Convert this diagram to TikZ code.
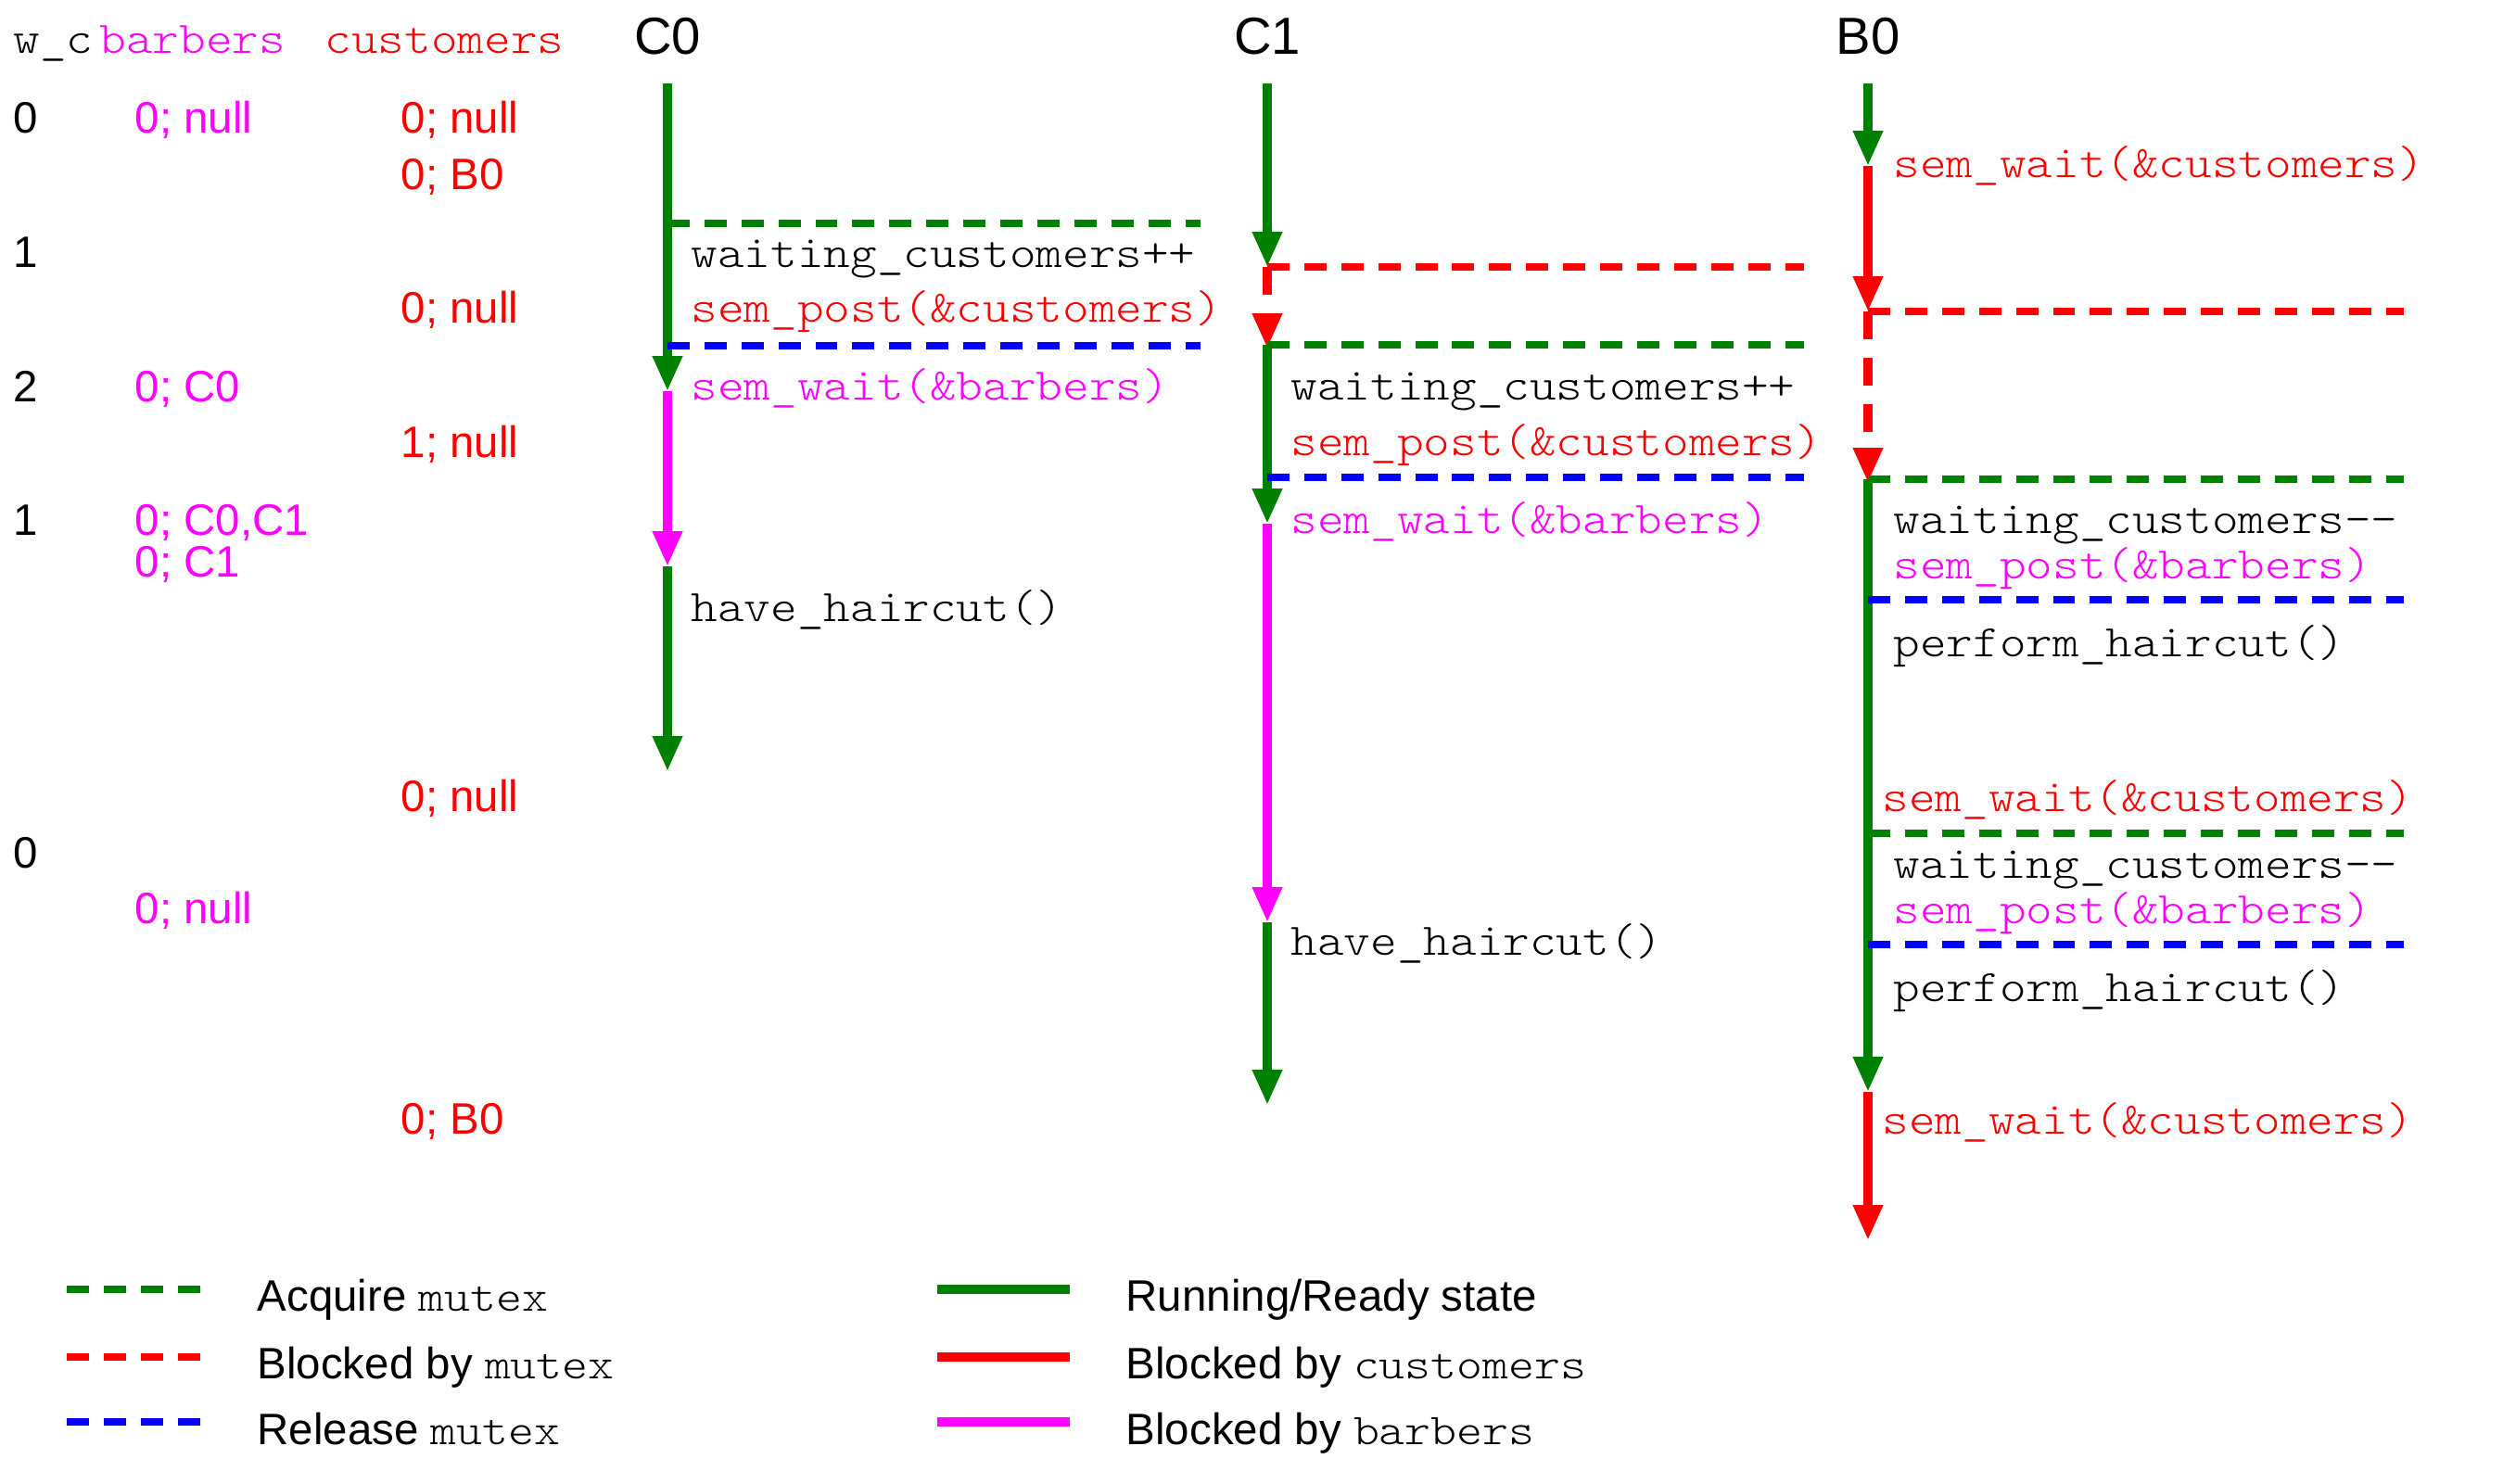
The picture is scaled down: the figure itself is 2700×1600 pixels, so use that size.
\documentclass[tikz,border=0pt]{standalone}
\usepackage{fontspec}
\setmainfont{Liberation Sans}
\setmonofont[FakeStretch=1.12]{lmmonolt10-regular.otf}
\usetikzlibrary{arrows.meta}
\definecolor{dgreen}{RGB}{0,128,0}
\definecolor{cred}{RGB}{255,0,0}
\definecolor{cblue}{RGB}{0,0,255}
\definecolor{cmag}{RGB}{255,0,255}
\begin{document}
\begin{tikzpicture}[x=0.2845pt,y=-0.2845pt,
  seg/.style={line width=2.6pt,-{Triangle[length=10.8pt,width=8.6pt]}},
  hdash/.style={line width=2.3pt,dash pattern=on 6.8pt off 4.55pt},
  vdash/.style={line width=2.6pt,dash pattern=on 8.5pt off 5.7pt,-{Triangle[length=10.8pt,width=8.6pt]}},
  legsolid/.style={line width=2.6pt},
  mono/.style={font=\fontsize{13.85}{16}\selectfont\ttfamily,anchor=base west,inner sep=0pt},
  sans/.style={font=\fontsize{13.5}{16}\selectfont,anchor=base west,inner sep=0pt},
  head/.style={font=\fontsize{16}{19}\selectfont,anchor=base,inner sep=0pt}]
\useasboundingbox (0,0) rectangle (2700,1600);

% ---------- table header ----------
\node[mono] (hwc) at (14,57) {w\_c};
\node[mono,text=cmag] (hbar) at (107,57) {barbers};
\node[mono,text=cred] (hcus) at (350,57) {customers};

% w_c column
\node[sans] (w1) at (14,143) {0};
\node[sans] (w2) at (14,288) {1};
\node[sans] (w3) at (14,433) {2};
\node[sans] (w4) at (14,577) {1};
\node[sans] (w5) at (14,936) {0};

% barbers column
\node[sans,text=cmag] (b1) at (145,143) {0; null};
\node[sans,text=cmag] (b2) at (145,433) {0; C0};
\node[sans,text=cmag] (b3) at (145,577) {0; C0,C1};
\node[sans,text=cmag] (b4) at (145,622) {0; C1};
\node[sans,text=cmag] (b5) at (145,996) {0; null};

% customers column
\node[sans,text=cred] (u1) at (432,143) {0; null};
\node[sans,text=cred] (u2) at (432,204) {0; B0};
\node[sans,text=cred] (u3) at (432,348) {0; null};
\node[sans,text=cred] (u4) at (432,493) {1; null};
\node[sans,text=cred] (u5) at (432,875) {0; null};
\node[sans,text=cred] (u6) at (432,1223) {0; B0};

% ---------- thread headers ----------
\node[head] (hC0) at (720,58) {C0};
\node[head] (hC1) at (1367,58) {C1};
\node[head] (hB0) at (2015,58) {B0};

% ---------- C0 ----------
\coordinate (c0s) at (720,90);
\coordinate (c0a) at (720,422);
\coordinate (c0b) at (720,611);
\coordinate (c0e) at (720,832);
\draw[seg,dgreen] (c0s) -- (c0a);
\draw[seg,cmag] (c0a) -- (c0b);
\draw[seg,dgreen] (c0b) -- (c0e);
\coordinate (c0g1) at (720,241); \coordinate (c0g2) at (1295,241);
\coordinate (c0l1) at (720,373); \coordinate (c0l2) at (1295,373);
\draw[hdash,dgreen] (c0g1) -- (c0g2);
\draw[hdash,cblue] (c0l1) -- (c0l2);
\node[mono] (c0t1) at (745,288) {waiting\_customers++};
\node[mono,text=cred] (c0t2) at (745,347) {sem\_post(\&customers)};
\node[mono,text=cmag] (c0t3) at (745,431) {sem\_wait(\&barbers)};
\node[mono] (c0t4) at (745,670) {have\_haircut()};

% ---------- C1 ----------
\coordinate (c1s) at (1367,90);
\coordinate (c1a) at (1367,288);
\coordinate (c1b) at (1367,376);
\coordinate (c1bb) at (1367,372);
\coordinate (c1c) at (1367,565);
\coordinate (c1d) at (1367,995);
\coordinate (c1e) at (1367,1192);
\draw[seg,dgreen] (c1s) -- (c1a);
\draw[vdash,cred] (c1a) -- (c1b);
\draw[seg,dgreen] (c1bb) -- (c1c);
\draw[seg,cmag] (c1c) -- (c1d);
\draw[seg,dgreen] (c1d) -- (c1e);
\coordinate (c1r1) at (1367,288); \coordinate (c1r2) at (1946,288);
\coordinate (c1g1) at (1367,372); \coordinate (c1g2) at (1946,372);
\coordinate (c1l1) at (1367,515); \coordinate (c1l2) at (1946,515);
\draw[hdash,cred] (c1r1) -- (c1r2);
\draw[hdash,dgreen] (c1g1) -- (c1g2);
\draw[hdash,cblue] (c1l1) -- (c1l2);
\node[mono] (c1t1) at (1392,431) {waiting\_customers++};
\node[mono,text=cred] (c1t2) at (1392,491) {sem\_post(\&customers)};
\node[mono,text=cmag] (c1t3) at (1392,575) {sem\_wait(\&barbers)};
\node[mono] (c1t4) at (1392,1030) {have\_haircut()};

% ---------- B0 ----------
\coordinate (b0s) at (2015,90);
\coordinate (b0a) at (2015,179);
\coordinate (b0b) at (2015,336);
\coordinate (b0c) at (2015,521);
\coordinate (b0cc) at (2015,517);
\coordinate (b0d) at (2015,1178);
\coordinate (b0e) at (2015,1338);
\draw[seg,dgreen] (b0s) -- (b0a);
\draw[seg,cred] (b0a) -- (b0b);
\draw[vdash,cred] (b0b) -- (b0c);
\draw[seg,dgreen] (b0cc) -- (b0d);
\draw[seg,cred] (b0d) -- (b0e);
\coordinate (b0r1) at (2015,336); \coordinate (b0r2) at (2593,336);
\coordinate (b0g1) at (2015,517); \coordinate (b0g2) at (2593,517);
\coordinate (b0l1) at (2015,647); \coordinate (b0l2) at (2593,647);
\coordinate (b0h1) at (2015,899); \coordinate (b0h2) at (2593,899);
\coordinate (b0m1) at (2015,1019); \coordinate (b0m2) at (2593,1019);
\draw[hdash,cred] (b0r1) -- (b0r2);
\draw[hdash,dgreen] (b0g1) -- (b0g2);
\draw[hdash,cblue] (b0l1) -- (b0l2);
\draw[hdash,dgreen] (b0h1) -- (b0h2);
\draw[hdash,cblue] (b0m1) -- (b0m2);
\node[mono,text=cred] (b0t1) at (2042,191) {sem\_wait(\&customers)};
\node[mono] (b0t2) at (2042,575) {waiting\_customers-{}-};
\node[mono,text=cmag] (b0t3) at (2042,624) {sem\_post(\&barbers)};
\node[mono] (b0t4) at (2042,708) {perform\_haircut()};
\node[mono,text=cred] (b0t5) at (2030,875) {sem\_wait(\&customers)};
\node[mono] (b0t6) at (2042,947) {waiting\_customers-{}-};
\node[mono,text=cmag] (b0t7) at (2042,996) {sem\_post(\&barbers)};
\node[mono] (b0t8) at (2042,1080) {perform\_haircut()};
\node[mono,text=cred] (b0t9) at (2030,1223) {sem\_wait(\&customers)};

% ---------- legend ----------
\coordinate (la1) at (72,1391); \coordinate (la2) at (217,1391);
\coordinate (lb1) at (72,1464); \coordinate (lb2) at (217,1464);
\coordinate (lc1) at (72,1534); \coordinate (lc2) at (217,1534);
\draw[hdash,dgreen] (la1) -- (la2);
\draw[hdash,cred] (lb1) -- (lb2);
\draw[hdash,cblue] (lc1) -- (lc2);
\node[sans] (lta) at (277,1414) {Acquire \texttt{mutex}};
\node[sans] (ltb) at (277,1487) {Blocked by \texttt{mutex}};
\node[sans] (ltc) at (277,1558) {Release \texttt{mutex}};
\coordinate (ld1) at (1011,1391); \coordinate (ld2) at (1154,1391);
\coordinate (le1) at (1011,1464); \coordinate (le2) at (1154,1464);
\coordinate (lf1) at (1011,1534); \coordinate (lf2) at (1154,1534);
\draw[legsolid,dgreen] (ld1) -- (ld2);
\draw[legsolid,cred] (le1) -- (le2);
\draw[legsolid,cmag] (lf1) -- (lf2);
\node[sans] (ltd) at (1214,1414) {Running/Ready state};
\node[sans] (lte) at (1214,1487) {Blocked by \texttt{customers}};
\node[sans] (ltf) at (1214,1558) {Blocked by \texttt{barbers}};
\end{tikzpicture}
\end{document}
